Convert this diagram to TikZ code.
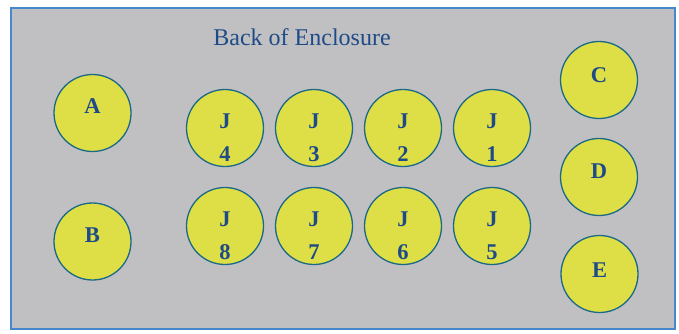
\documentclass[tikz,border=0pt]{standalone}
\usetikzlibrary{calc}
\usepackage{fontspec}
\setmainfont{Liberation Serif}
\definecolor{bg}{RGB}{192,192,194}
\definecolor{frame}{RGB}{70,135,205}
\definecolor{jackfill}{RGB}{222,222,70}
\definecolor{jackline}{RGB}{25,105,135}
\definecolor{txt}{RGB}{30,75,135}
\begin{document}
\begin{tikzpicture}[x=1pt,y=-1pt,
  jack/.style={circle,draw=jackline,fill=jackfill,line width=1.3pt,minimum size=77pt,inner sep=0pt},
  lab/.style={text=txt,font=\fontsize{22.5}{22.5}\selectfont\bfseries,inner sep=0pt,anchor=center},
  title/.style={text=txt,font=\fontsize{24}{24}\selectfont,inner sep=0pt}]
\useasboundingbox (0,0) rectangle (679,333);
\fill[white] (0,0) rectangle (679,333);
\node[draw=frame,fill=bg,line width=1.6pt,minimum width=664pt,minimum height=321pt,inner sep=0pt,anchor=north west] (encl) at (10,7) {};
\node[title] (ttl) at (302,37) {Back of Enclosure};
% side connectors
\node[jack] (a) at (92.5,113) {};
\node[lab] at ($(a)+(0,-7)$) {A};
\node[jack] (b) at (92.5,241.5) {};
\node[lab] at ($(b)+(0,-6)$) {B};
\node[jack] (c) at (599,80) {};
\node[lab] at ($(c)+(0,-5)$) {C};
\node[jack] (d) at (599,177) {};
\node[lab] at ($(d)+(0,-6)$) {D};
\node[jack] (e) at (599.5,274) {};
\node[lab] at ($(e)+(0,-4)$) {E};
% jacks
\foreach \n/\x/\y in {4/225/128,3/314/128,2/403/128,1/492/128,8/225/226,7/314/226,6/403/226,5/492/226}{
  \node[jack] (j\n) at (\x,\y) {};
  \node[lab] at ($(j\n)+(0,-7)$) {J};
  \node[lab] at ($(j\n)+(0,26)$) {\n};
}
\end{tikzpicture}
\end{document}
